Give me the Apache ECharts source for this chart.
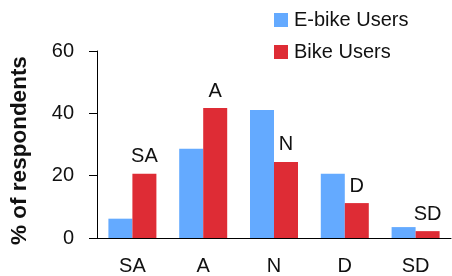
<!DOCTYPE html>
<html><head><meta charset="utf-8">
<script src="https://cdn.jsdelivr.net/npm/echarts@6/dist/echarts.min.js"></script>
<style>html,body{margin:0;padding:0;background:#fff}#c{width:452px;height:276px}</style>
</head><body><div id="c"></div>
<script>
const categories = ['SA', 'A', 'N', 'D', 'SD'];
const ebikeUsers = [6.2, 28.6, 41.1, 20.6, 3.5];
const bikeUsers = [20.6, 41.7, 24.4, 11.2, 2.2];
const yTicks = [0, 20, 40, 60];
const FONT = '"Liberation Sans", Arial, sans-serif';
const chart = echarts.init(document.getElementById('c'), null, {renderer: 'canvas'});
chart.setOption({
  animation: false,
  textStyle: {fontFamily: FONT},
  legend: {
    orient: 'vertical', left: 269, top: 5, itemWidth: 14, itemHeight: 14, itemGap: 12,
    icon: 'rect',
    textStyle: {fontSize: 20, color: '#111', fontFamily: FONT, padding: [0, 0, 0, 1]},
    data: ['E-bike Users', 'Bike Users']
  },
  grid: {left: 94, right: 1, top: 51, bottom: 38, containLabel: false},
  xAxis: {
    type: 'category', data: categories,
    axisLine: {lineStyle: {color: '#000', width: 1}},
    axisTick: {length: 7, lineStyle: {color: '#000'}},
    axisLabel: {fontSize: 20, color: '#111', margin: 18, fontFamily: FONT}
  },
  yAxis: {
    type: 'value', min: yTicks[0], max: yTicks[yTicks.length - 1], interval: 20,
    name: '% of respondents', nameLocation: 'middle', nameGap: 66,
    nameTextStyle: {fontSize: 22.5, fontWeight: 'bold', color: '#111', fontFamily: FONT, padding: [0, 12, 0, 0]},
    axisLine: {show: true, lineStyle: {color: '#000'}},
    axisTick: {show: true, length: 8, lineStyle: {color: '#000'}},
    splitLine: {show: false},
    axisLabel: {fontSize: 20, color: '#111', margin: 23, fontFamily: FONT}
  },
  series: [
    {name: 'E-bike Users', type: 'bar', data: ebikeUsers, barWidth: 24, barGap: '0%',
     itemStyle: {color: '#64AAFF'}},
    {name: 'Bike Users', type: 'bar', data: bikeUsers, barWidth: 24,
     itemStyle: {color: '#DE2C35'},
     label: {show: true, position: 'top', distance: 7, fontSize: 20, color: '#111', fontFamily: FONT,
       formatter: p => categories[p.dataIndex]}}
  ]
});
</script></body></html>
